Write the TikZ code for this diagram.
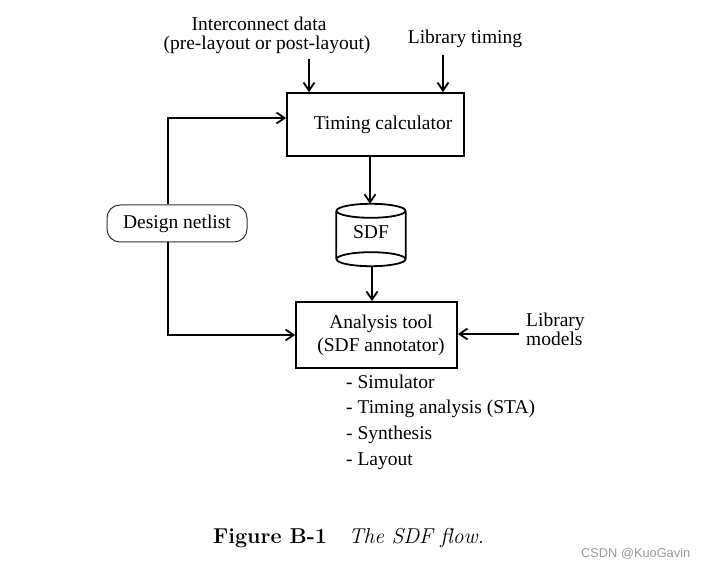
\documentclass[tikz,border=0pt]{standalone}
\usepackage{fontspec}
\usetikzlibrary{arrows.meta}
\newfontfamily\tnr{Liberation Serif}
\newfontfamily\wmark{Liberation Sans}

\begin{document}
\begin{tikzpicture}[x=1pt, y=-1pt,
        box/.style={draw, line width=1.8pt, inner sep=0pt},
        arr/.style={line width=1.8pt, -{Straight Barb[length=8pt, width=11pt]}},
        txt/.style={font={\tnr\fontsize{19.5}{23}\selectfont}, inner sep=0pt}]
        \useasboundingbox (0,0) rectangle (705,567);
        % inputs on top
        \node[txt, anchor=base] (ic1) at (259,30.7) {Interconnect data};
        \node[txt, anchor=base] (ic2) at (267,50) {(pre-layout or post-layout)};
        \node[txt, anchor=base] (lt) at (465,43.3) {Library timing};
        \coordinate (icin) at (309,59);
        \coordinate (ltin) at (443,55);
        % boxes
        \node[box, txt, minimum width=177pt, minimum height=63pt] (tc) at (375.5,124.5) {\hspace*{15pt}Timing calculator};
        \node[txt, draw=black!80, line width=1pt, rounded corners=13pt, minimum width=140pt, minimum height=37pt] (dn) at (177,223.5) {Design netlist};
        \node[txt, minimum width=69pt, minimum height=62pt, text depth=6.5pt] (sdf) at (371,235) {SDF};
        \draw[line width=1.8pt] ([yshift=-7pt]sdf.north) ellipse [x radius=34.5pt, y radius=7pt]
            ([yshift=7pt]sdf.south) ellipse [x radius=34.5pt, y radius=7pt]
            ([yshift=-7pt]sdf.north west) -- ([yshift=7pt]sdf.south west)
            ([yshift=-7pt]sdf.north east) -- ([yshift=7pt]sdf.south east);
        \node[box, txt, align=center, minimum width=161pt, minimum height=66pt] (an) at (376.5,335) {\hspace*{9pt}Analysis tool\\\hspace*{9pt}(SDF annotator)};
        \node[txt, font={\tnr\fontsize{19.5}{18.6}\selectfont}, anchor=west, align=left, inner xsep=7pt] (lm) at (519,329.5) {Library\\models};
        % tools
        \foreach \tool [count=\i] in {Simulator, Timing analysis (STA), Synthesis, Layout}
        \node[txt, anchor=base west] (tool\i) at (346, {388.3+25.6*(\i-1)}) {- \tool};
        % connectors
        \draw[arr] (icin) -- (icin |- tc.north);
        \draw[arr] (ltin) -- (ltin |- tc.north);
        \draw[arr] ([xshift=-9pt]dn.north) |- ([yshift=6.5pt]tc.west);
        \draw[arr] ([xshift=-9pt]dn.south) |- (an.west);
        \draw[arr] ([xshift=-1pt]sdf.north |- tc.south) -- ([xshift=-1pt]sdf.north);
        \draw[arr] ([xshift=1pt]sdf.south) -- ([xshift=1pt]sdf.south |- an.north);
        \draw[arr] ([yshift=-4.5pt]lm.west) -- ([yshift=-4.5pt]lm.west -| an.east);
        % caption
        \node[anchor=base west, inner sep=0pt, font=\fontsize{21.5}{25}\selectfont] (cap) at (213,543.3) {\textbf{Figure B-1}\quad\textit{The SDF flow.}};
        \node[anchor=base west, inner sep=0pt, text=black!40, font={\wmark\fontsize{12.8}{15}\selectfont}] (wm) at (581,557) {CSDN @KuoGavin};
\end{tikzpicture}
\end{document}
